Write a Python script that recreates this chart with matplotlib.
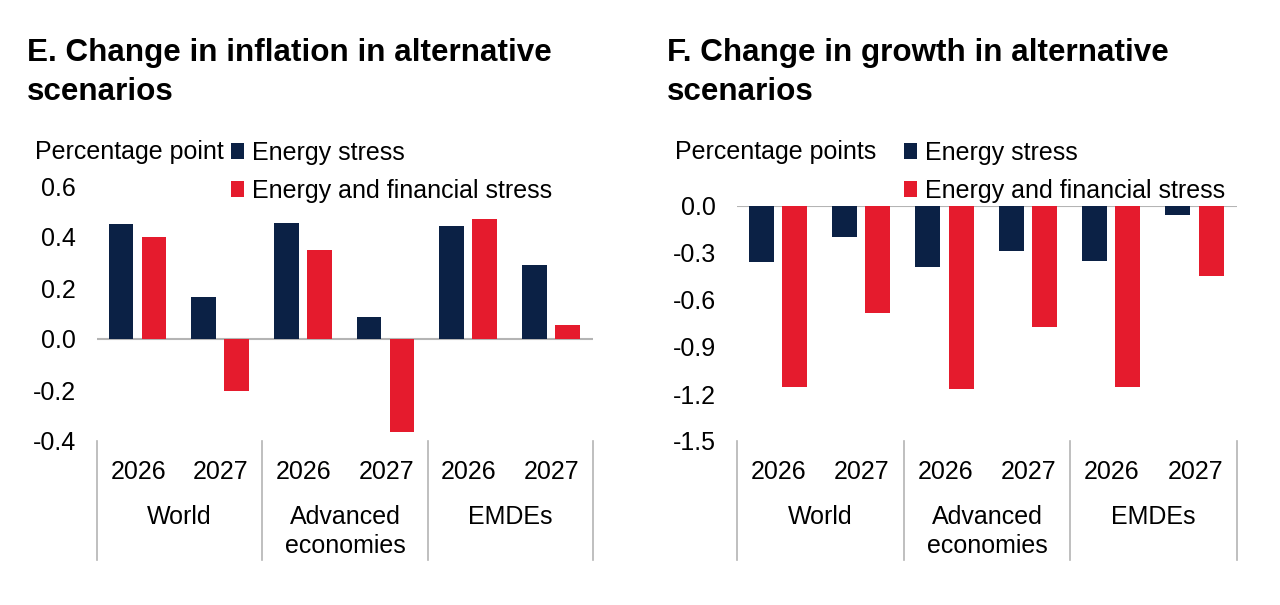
import matplotlib.pyplot as plt
import matplotlib.transforms as mtransforms
import numpy as np

plt.rcParams['font.family'] = ['Liberation Sans', 'DejaVu Sans']

years = ["2026", "2027", "2026", "2027", "2026", "2027"]
groups = ["World", "Advanced\neconomies", "EMDEs"]
series_names = ["Energy stress", "Energy and financial stress"]

# E. inflation (percentage points)
infl_energy = [0.45, 0.165, 0.455, 0.085, 0.445, 0.29]
infl_fin = [0.40, -0.205, 0.35, -0.365, 0.47, 0.055]

# F. growth (percentage points)
grow_energy = [-0.36, -0.20, -0.39, -0.285, -0.35, -0.06]
grow_fin = [-1.155, -0.685, -1.165, -0.77, -1.155, -0.445]

navy = '#0b2145'
red = '#e51b2d'
grey = '#b4b4b4'
FS = 18

W, H = 1280, 605
fig = plt.figure(figsize=(12.8, 6.05), dpi=100)


def fx(px):
    return px / W


def fy(py):
    return 1 - py / H


def panel(rect, vals1, vals2, ylim, ticks, title, title_x, ylab, ylab_x, leg_x):
    ax = fig.add_axes(rect)
    x = np.arange(len(years))
    ax.bar(x - 0.21, vals1, width=0.3, color=navy, label=series_names[0])
    ax.bar(x + 0.19, vals2, width=0.3, color=red, label=series_names[1])
    ax.axhline(0, color=grey, lw=1.5, zorder=0)
    ax.set_xlim(-0.5, 5.5)
    ax.set_ylim(*ylim)
    ax.set_yticks(ticks)
    ax.set_yticklabels(['%.1f' % t for t in ticks], fontsize=FS)
    ax.tick_params(axis='y', length=0, pad=15)
    ax.set_xticks([])
    for s in ax.spines.values():
        s.set_visible(False)

    tr = mtransforms.blended_transform_factory(ax.transData, fig.transFigure)
    for i, yr in enumerate(years):
        ax.text(i, fy(479), yr, transform=tr, ha='center', va='baseline', fontsize=FS)
    for g, name in enumerate(groups):
        for k, line in enumerate(name.split('\n')):
            ax.text(2 * g + 0.5, fy(524 + 29 * k), line, transform=tr,
                    ha='center', va='baseline', fontsize=FS)
    for sx in [-0.5, 1.5, 3.5, 5.5]:
        ax.plot([sx, sx], [fy(441), fy(560)], transform=tr, color=grey, lw=1.2,
                clip_on=False)

    for k, line in enumerate(title.split('\n')):
        fig.text(fx(title_x), fy(61 + 39 * k), line, fontsize=22.6, fontweight='bold',
                 va='baseline', ha='left')
    fig.text(fx(ylab_x), fy(152), ylab, fontsize=FS, va='center', ha='left')
    ax.legend(loc='upper left', bbox_to_anchor=(fx(leg_x), fy(141)),
              bbox_transform=fig.transFigure, frameon=False, fontsize=FS,
              handlelength=0.5, handleheight=0.6, handletextpad=0.35,
              labelspacing=0.54, borderpad=0, borderaxespad=0)
    return ax


panel([fx(97), fy(441), fx(496), 255 / H], infl_energy, infl_fin,
      (-0.4, 0.6), [-0.4, -0.2, 0.0, 0.2, 0.4, 0.6],
      "E. Change in inflation in alternative\nscenarios", 27,
      "Percentage point", 35, 231)

panel([fx(737), fy(441), fx(500), 235 / H], grow_energy, grow_fin,
      (-1.5, 0.0), [-1.5, -1.2, -0.9, -0.6, -0.3, 0.0],
      "F. Change in growth in alternative\nscenarios", 667,
      "Percentage points", 675, 904)

fig.savefig('out.png', dpi=100)
